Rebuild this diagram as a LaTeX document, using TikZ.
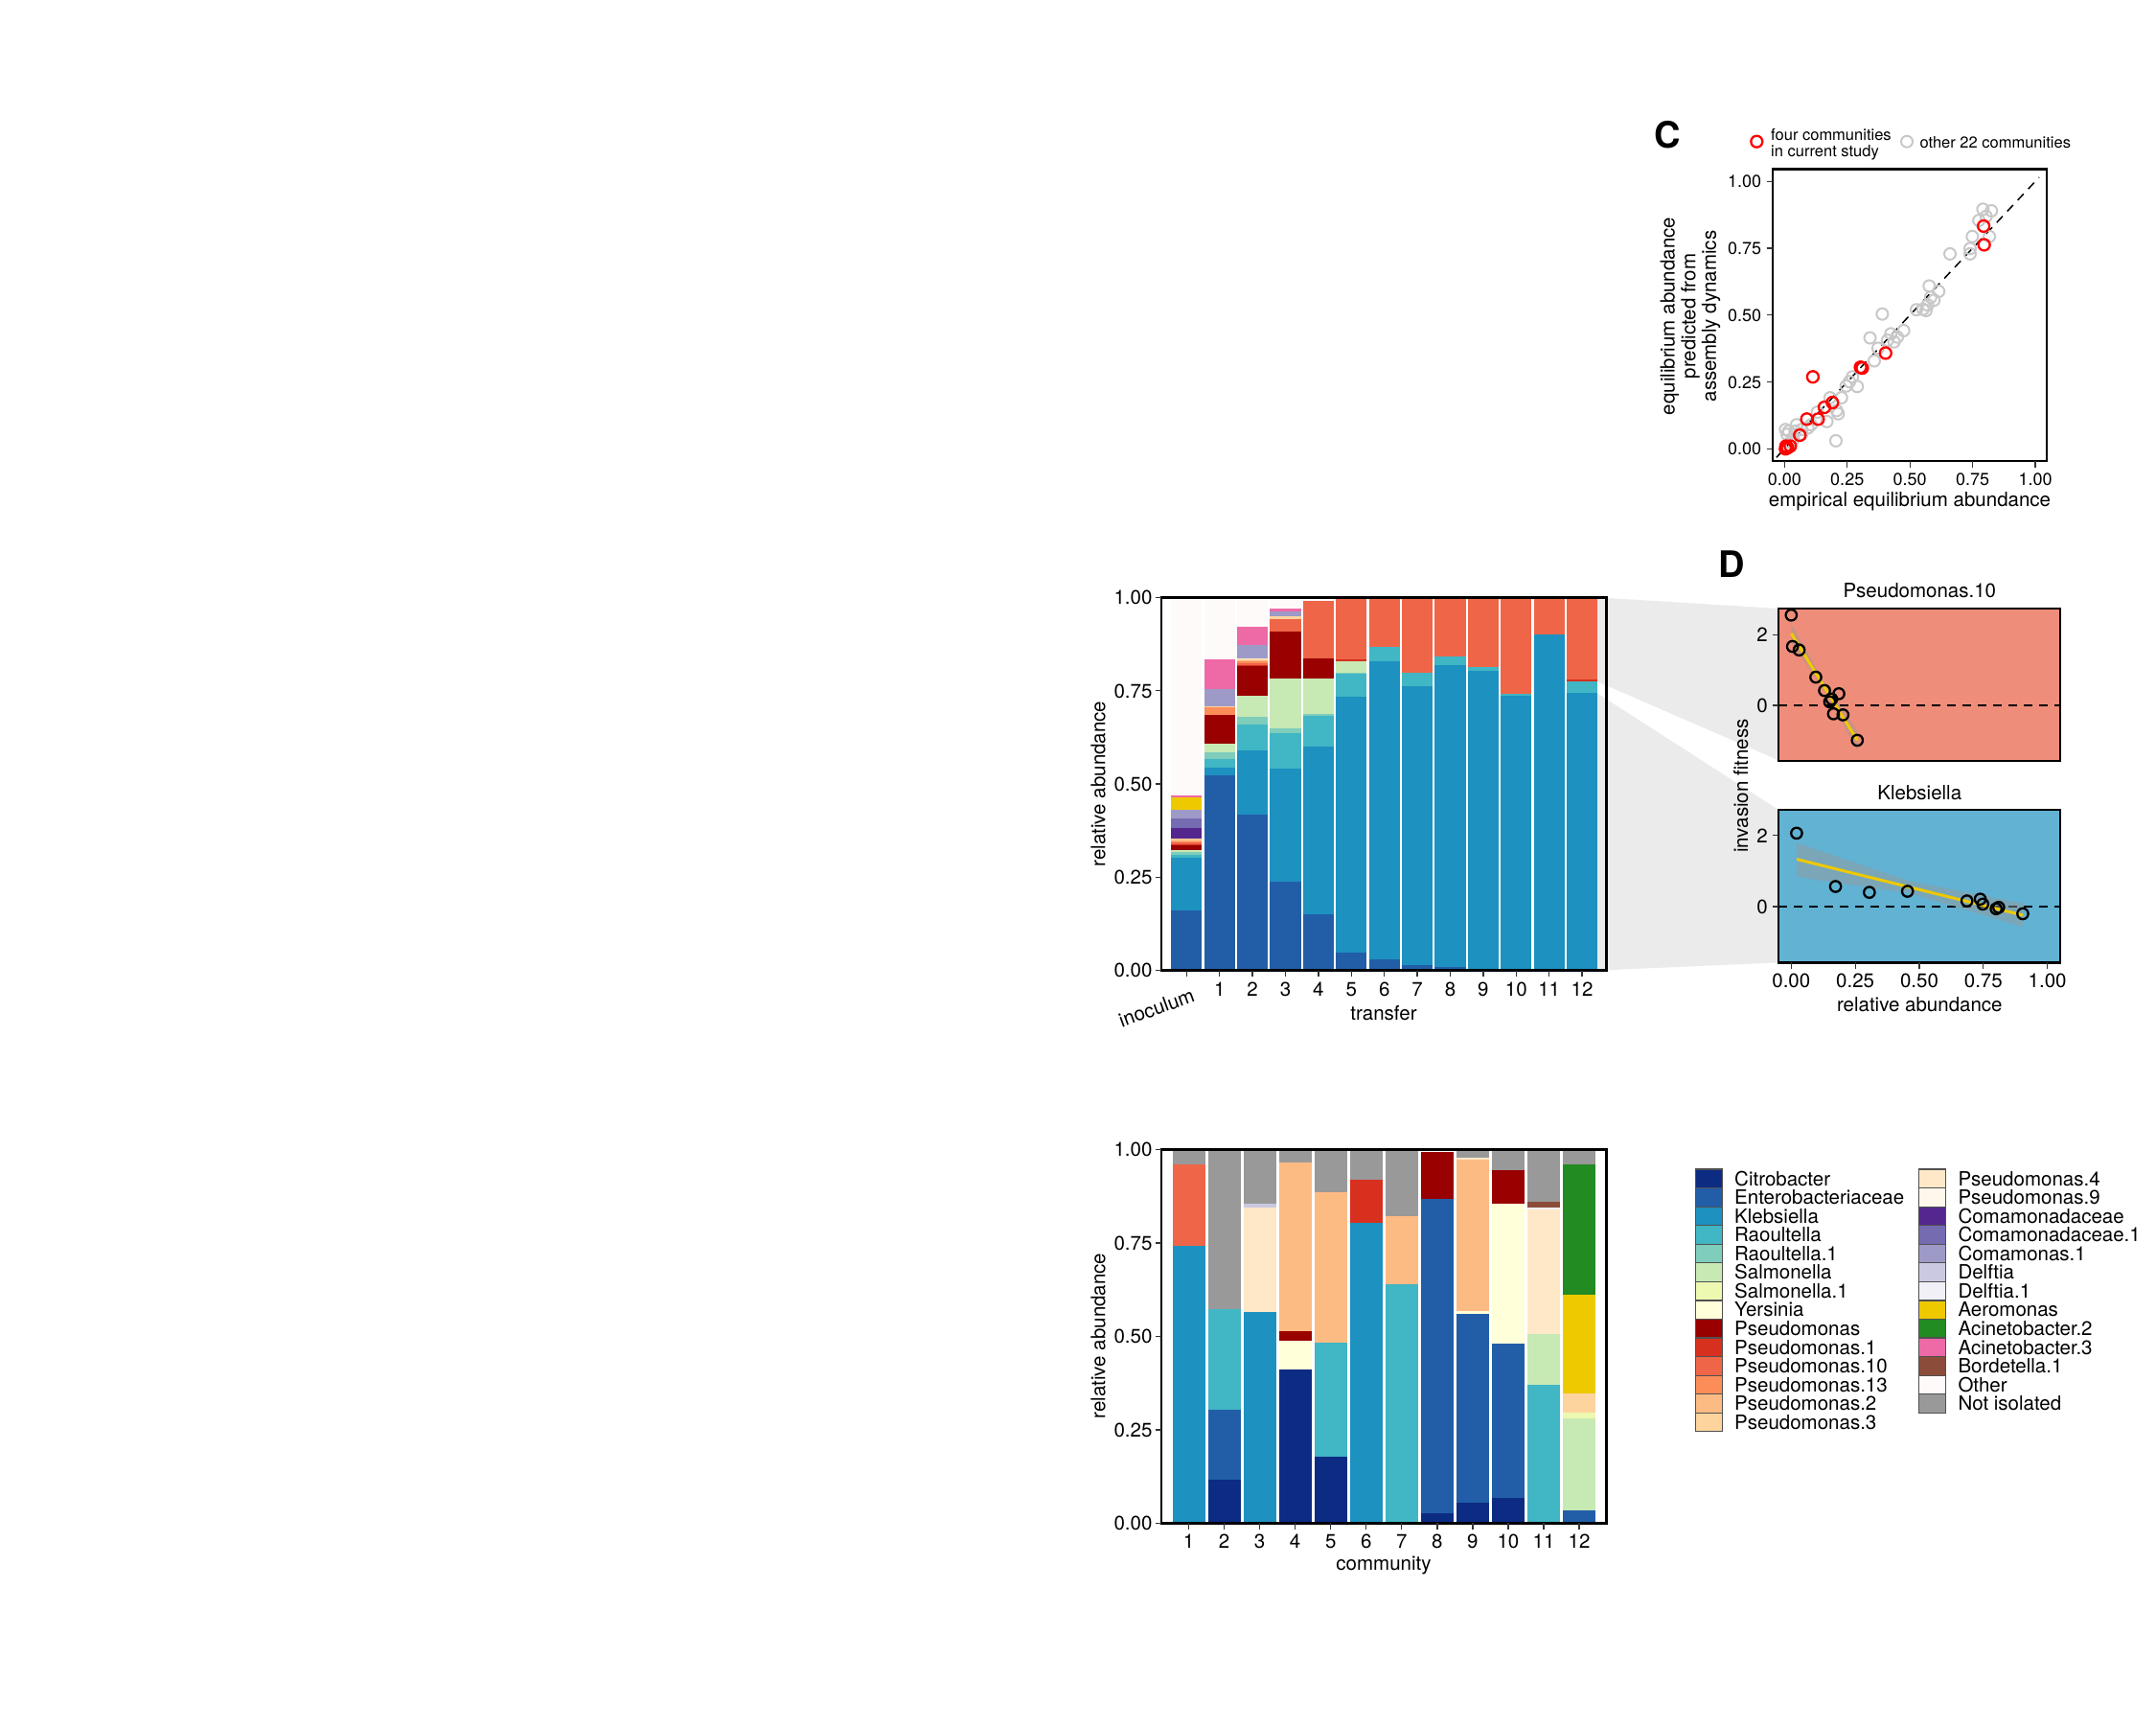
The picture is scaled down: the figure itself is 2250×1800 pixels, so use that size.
\documentclass[tikz,border=0pt]{standalone}
\usepackage{fontspec}
\setmainfont{TeX Gyre Heros}
\newcommand\fsz[1]{\fontsize{#1}{#1}\selectfont}
\definecolor{cCitro}{HTML}{0C2C84}
\definecolor{cEnt}{HTML}{225EA8}
\definecolor{cKleb}{HTML}{1D91C0}
\definecolor{cRao}{HTML}{41B6C4}
\definecolor{cRaoA}{HTML}{7FCDBB}
\definecolor{cSal}{HTML}{C7E9B4}
\definecolor{cSalA}{HTML}{EDF8B1}
\definecolor{cYer}{HTML}{FFFFD9}
\definecolor{cPs}{HTML}{990000}
\definecolor{cPsA}{HTML}{D7301F}
\definecolor{cPsX}{HTML}{EF6548}
\definecolor{cPsM}{HTML}{FC8D59}
\definecolor{cPsB}{HTML}{FDBB84}
\definecolor{cPsC}{HTML}{FDD49E}
\definecolor{cPsD}{HTML}{FEE8C8}
\definecolor{cPsI}{HTML}{FFF7EC}
\definecolor{cComa}{HTML}{54278F}
\definecolor{cComaA}{HTML}{756BB1}
\definecolor{cComs}{HTML}{9E9AC8}
\definecolor{cDelf}{HTML}{CBC9E2}
\definecolor{cDelfA}{HTML}{F2F0F7}
\definecolor{cAero}{HTML}{EEC900}
\definecolor{cAcinB}{HTML}{228B22}
\definecolor{cAcinC}{HTML}{EE6AA7}
\definecolor{cBord}{HTML}{8B4C39}
\definecolor{cOther}{HTML}{FFFAFA}
\definecolor{cNot}{HTML}{999999}
\definecolor{wedgegrey}{HTML}{EBEBEB}
\definecolor{dtopbg}{HTML}{EF8D7B}
\definecolor{dbotbg}{HTML}{61B2D3}
\definecolor{tickgrey}{HTML}{333333}
\definecolor{keyborder}{HTML}{505050}
\definecolor{ptgrey}{HTML}{C8C8C8}
\definecolor{ribbongrey}{HTML}{999999}
\newcommand\stackbar[3]{%
  \foreach \bcol/\btop [remember=\btop as \bprev (initially 0)] in {#3}{%
    \fill[\bcol] (#1-#2,\bprev) rectangle (#1+#2,\btop);}}
\begin{document}
\begin{tikzpicture}[x=1pt,y=-1pt,
  frame/.style={draw=black,line width=2.8pt},
  tickmark/.style={draw=tickgrey,line width=1.3pt},
  ticklab/.style={font=\fsz{20.5},inner sep=0pt},
  ticklabC/.style={font=\fsz{18},inner sep=0pt},
  axtitle/.style={font=\fsz{20.5},inner sep=0pt},
  legkey/.style={draw=keyborder,line width=1.2pt},
  leglab/.style={font=\fsz{20.5},inner sep=0pt,anchor=base west},
  redpt/.style={draw=red,line width=2.3pt},
  greypt/.style={draw=ptgrey,line width=2pt},
  blackpt/.style={draw=black,line width=2.3pt},
  fitline/.style={draw=cAero,line width=3pt},
  ribbon/.style={fill=ribbongrey,fill opacity=0.45},
  zline/.style={draw=black,line width=1.8pt,dash pattern=on 9pt off 7pt},
  panlab/.style={font=\fsz{38}\bfseries,inner sep=0pt}]
\useasboundingbox (0,0) rectangle (2250,1800);
\fill[white] (0,0) rectangle (2250,1800);

% ---------- grey wedges linking B to D ----------
\fill[wedgegrey] (1651,622.4) -- (1856,635) -- (1856,793.3) -- (1651,704.2) -- cycle;
\fill[wedgegrey] (1651,713.2) -- (1856,845) -- (1856,1004.3) -- (1651,1013.3) -- cycle;

% ---------- middle stacked bar chart (transfers) ----------
\begin{scope}[shift={(1238.3,1012.5)},x=34.4pt,y=389pt]
\stackbar{0}{0.47}{cEnt/0.161,cKleb/0.303,cRao/0.311,cRaoA/0.318,cSal/0.323,cPs/0.335,cPsA/0.339,cPsX/0.343,cPsM/0.347,cPsB/0.351,cPsC/0.3546,cComa/0.382,cComaA/0.4085,cComs/0.431,cAero/0.463,cAcinC/0.470,cOther/1}
\stackbar{1}{0.47}{cEnt/0.523,cKleb/0.544,cRao/0.566,cRaoA/0.585,cSal/0.6085,cPs/0.684,cPsM/0.705,cPsC/0.709,cComs/0.7546,cAcinC/0.835,cOther/1}
\stackbar{2}{0.47}{cEnt/0.419,cKleb/0.591,cRao/0.66,cRaoA/0.681,cSal/0.737,cPs/0.816,cPsA/0.820,cPsX/0.824,cPsM/0.828,cPsB/0.831,cPsC/0.834,cPsD/0.837,cComs/0.872,cAcinC/0.922,cOther/1}
\stackbar{3}{0.47}{cEnt/0.237,cKleb/0.541,cRao/0.637,cRaoA/0.6495,cSal/0.782,cPs/0.910,cPsX/0.942,cPsC/0.951,cComs/0.964,cAcinC/0.970,cOther/1}
\stackbar{4}{0.47}{cEnt/0.1496,cKleb/0.601,cRao/0.682,cRaoA/0.688,cSal/0.7838,cPs/0.8376,cPsX/0.9915,cOther/1}
\stackbar{5}{0.47}{cEnt/0.0487,cKleb/0.735,cRao/0.795,cRaoA/0.799,cSal/0.829,cPsA/0.8333,cPsX/1}
\stackbar{6}{0.47}{cEnt/0.029,cKleb/0.829,cRao/0.8667,cPsX/1}
\stackbar{7}{0.47}{cEnt/0.015,cKleb/0.762,cRao/0.797,cPsX/1}
\stackbar{8}{0.47}{cEnt/0.01,cKleb/0.818,cRao/0.842,cPsX/1}
\stackbar{9}{0.47}{cKleb/0.803,cRao/0.8145,cPsX/1}
\stackbar{10}{0.47}{cKleb/0.737,cRao/0.742,cPsX/1}
\stackbar{11}{0.47}{cKleb/0.9017,cPsX/1}
\stackbar{12}{0.47}{cKleb/0.7436,cRao/0.775,cPsA/0.780,cPsX/1}
\end{scope}
\draw[frame] (1212,623.5) rectangle (1676.5,1012.5);
\foreach \v/\l [count=\k] in {0/0.00,0.25/0.25,0.5/0.50,0.75/0.75,1/1.00}{
  \draw[tickmark] (1205.5,{1012.5-389*\v}) -- (1212,{1012.5-389*\v});
  \node[ticklab,anchor=base east] (bY\k) at (1202.6,{1012.5-389*\v+7.3}) {\l};}
\foreach \i in {0,...,12}{
  \draw[tickmark] ({1238.3+34.4*\i},1012.5) -- ({1238.3+34.4*\i},1019);}
\foreach \i in {1,...,12}{
  \node[ticklab,anchor=base] (bX\i) at ({1238.3+34.4*\i},1039.5) {\i};}
\node[ticklab,anchor=north east,rotate=20] (bX0) at (1243,1030) {inoculum};
\node[axtitle] (bxt) at (1444,1056.7) {transfer};
\node[axtitle,rotate=90] (byt) at (1146,818) {relative abundance};

% ---------- bottom stacked bar chart (communities) ----------
\begin{scope}[shift={(1203.45,1589.3)},x=37.05pt,y=389.8pt]
\stackbar{1}{0.459}{cKleb/0.743,cPsX/0.960,cNot/1}
\stackbar{2}{0.459}{cCitro/0.1153,cEnt/0.303,cRao/0.574,cNot/1}
\stackbar{3}{0.459}{cKleb/0.5645,cPsD/0.8454,cDelf/0.854,cNot/1}
\stackbar{4}{0.459}{cCitro/0.411,cYer/0.487,cPs/0.513,cPsB/0.966,cNot/1}
\stackbar{5}{0.459}{cCitro/0.179,cRao/0.484,cPsB/0.887,cNot/1}
\stackbar{6}{0.459}{cKleb/0.8036,cPsA/0.919,cNot/1}
\stackbar{7}{0.459}{cRao/0.6405,cPsB/0.8215,cNot/1}
\stackbar{8}{0.459}{cCitro/0.0256,cEnt/0.8685,cPs/0.993,cOther/1}
\stackbar{9}{0.459}{cCitro/0.0555,cEnt/0.560,cYer/0.569,cPsB/0.9735,cPsD/0.979,cNot/1}
\stackbar{10}{0.459}{cCitro/0.0666,cEnt/0.481,cYer/0.854,cPs/0.946,cNot/1}
\stackbar{11}{0.459}{cRao/0.3715,cSal/0.505,cPsD/0.841,cDelfA/0.844,cBord/0.859,cNot/1}
\stackbar{12}{0.459}{cEnt/0.034,cSal/0.280,cSalA/0.297,cPsC/0.348,cAero/0.6115,cAcinB/0.960,cNot/1}
\end{scope}
\draw[frame] (1212,1199.5) rectangle (1676.5,1589.3);
\foreach \v/\l [count=\k] in {0/0.00,0.25/0.25,0.5/0.50,0.75/0.75,1/1.00}{
  \draw[tickmark] (1205.5,{1589.3-389.8*\v}) -- (1212,{1589.3-389.8*\v});
  \node[ticklab,anchor=base east] (cY\k) at (1202.6,{1589.3-389.8*\v+7.3}) {\l};}
\foreach \i in {1,...,12}{
  \draw[tickmark] ({1203.45+37.05*\i},1589.3) -- ({1203.45+37.05*\i},1595.5);
  \node[ticklab,anchor=base] (cX\i) at ({1203.45+37.05*\i},1615.6) {\i};}
\node[axtitle] (cxt) at (1444,1633.3) {community};
\node[axtitle,rotate=90] (cyt) at (1146,1394) {relative abundance};

% ---------- legend ----------
\foreach \kcol/\lname [count=\k from 0] in {cCitro/Citrobacter,cEnt/Enterobacteriaceae,cKleb/Klebsiella,cRao/Raoultella,cRaoA/Raoultella.1,cSal/Salmonella,cSalA/Salmonella.1,cYer/Yersinia,cPs/Pseudomonas,cPsA/Pseudomonas.1,cPsX/Pseudomonas.10,cPsM/Pseudomonas.13,cPsB/Pseudomonas.2,cPsC/Pseudomonas.3}{
  \path[legkey,fill=\kcol] (1769.3,{1220+19.56*\k}) rectangle ++(28,19.56);
  \node[leglab] (la\k) at (1810,{1220+19.56*\k+9.78+7.2}) {\lname};}
\foreach \kcol/\lname [count=\k from 0] in {cPsD/Pseudomonas.4,cPsI/Pseudomonas.9,cComa/Comamonadaceae,cComaA/Comamonadaceae.1,cComs/Comamonas.1,cDelf/Delftia,cDelfA/Delftia.1,cAero/Aeromonas,cAcinB/Acinetobacter.2,cAcinC/Acinetobacter.3,cBord/Bordetella.1,cOther/Other,cNot/Not isolated}{
  \path[legkey,fill=\kcol] (2002.7,{1220+19.56*\k}) rectangle ++(28,19.56);
  \node[leglab] (lb\k) at (2043.3,{1220+19.56*\k+9.78+7.2}) {\lname};}

% ---------- panel C ----------
\node[panlab] (labC) at (1740,140.3) {C};
\draw[redpt] (1833.3,147.7) circle[radius=6pt];
\node[font=\fsz{16.5},inner sep=0pt,anchor=base west] (legC1) at (1848,146) {four communities};
\node[font=\fsz{16.5},inner sep=0pt,anchor=base west] (legC2) at (1848,163.7) {in current study};
\draw[greypt] (1990,147.7) circle[radius=6pt];
\node[font=\fsz{16.5},inner sep=0pt,anchor=base west] (legC3) at (2003.3,154) {other 22 communities};
\begin{scope}[shift={(1862.3,468.3)},x=261.7pt,y=279pt]
\draw[black,line width=1.5pt,dash pattern=on 9pt off 7pt] (-0.032,-0.032) -- (1.015,1.015);
\foreach \px/\py in {0.791/0.896,0.825/0.890,0.775/0.854,0.804/0.869,0.749/0.794,0.817/0.794,0.740/0.749,0.740/0.729,0.660/0.729,0.577/0.609,0.615/0.589,0.583/0.567,0.526/0.520,0.552/0.522,0.571/0.538,0.596/0.556,0.564/0.517,0.390/0.504,0.341/0.415,0.475/0.442,0.424/0.430,0.450/0.418,0.411/0.406,0.437/0.400,0.373/0.376,0.358/0.329,0.271/0.269,0.259/0.251,0.290/0.233,0.246/0.235,0.227/0.191,0.182/0.191,0.208/0.143,0.214/0.131,0.169/0.102,0.131/0.137,0.205/0.030,0.093/0.078,0.068/0.072,0.042/0.066,0.017/0.066,0.004/0.072,0.010/0.054,0.036/0.036,0.023/0.024,0.048/0.090,0.068/0.054,0.106/0.090}
  {\draw[greypt] (\px,\py) circle[radius=6pt];}
\foreach \px/\py in {0.794/0.833,0.796/0.763,0.403/0.358,0.303/0.305,0.31/0.302,0.113/0.269,0.191/0.173,0.159/0.155,0.089/0.111,0.134/0.111,0.061/0.051,0.006/0.01,0.023/0.01,0.004/0.0,0.012/0.004}
  {\draw[redpt] (\px,\py) circle[radius=6pt];}
\end{scope}
\draw[frame] (1850,176.7) rectangle (2136,481);
\foreach \v/\l [count=\k] in {0/0.00,0.25/0.25,0.5/0.50,0.75/0.75,1/1.00}{
  \draw[tickmark] (1843.5,{468.3-279*\v}) -- (1850,{468.3-279*\v});
  \node[ticklabC,anchor=base east] (aY\k) at (1838.3,{468.3-279*\v+6.5}) {\l};
  \draw[tickmark] ({1862.3+261.7*\v},481) -- ({1862.3+261.7*\v},487.5);
  \node[ticklabC,anchor=base] (aX\k) at ({1862.3+261.7*\v},506.5) {\l};}
\node[axtitle] (axt) at (1993,523.3) {empirical equilibrium abundance};
\node[axtitle,rotate=90,align=center,font=\fontsize{20.5}{21.7}\selectfont] (ayt) at (1764,330)
  {equilibrium abundance\\predicted from\\assembly dynamics};

% ---------- panel D ----------
\node[panlab] (labD) at (1807.5,589) {D};
\fill[dtopbg] (1856,635) rectangle (2150,794);
\fill[dbotbg] (1856,845) rectangle (2150,1004.3);
\draw[zline] (1856,736) -- (2150,736);
\draw[zline] (1856,946) -- (2150,946);
\begin{scope}[shift={(1869.3,736)},x=267.3pt,y=36.8pt]
\fill[ribbon] (0,2.32) -- (0.13,0.62) -- (0.258,-0.72) -- (0.258,-1.28) -- (0.13,0.41) -- (0,1.78) -- cycle;
\draw[fitline] (0,2.04) -- (0.258,-0.99);
\foreach \px/\py in {0.000/2.56,0.005/1.67,0.031/1.57,0.096/0.80,0.130/0.42,0.186/0.33,0.150/0.10,0.158/0.18,0.165/-0.24,0.202/-0.27,0.258/-0.99}
  {\draw[blackpt] (\px,\py) circle[radius=5.7pt];}
\end{scope}
\begin{scope}[shift={(1869.3,946)},x=267.3pt,y=37.2pt]
\fill[ribbon] (0.021,1.79) -- (0.46,0.72) -- (0.904,0.09) -- (0.904,-0.57) -- (0.46,0.38) -- (0.021,0.83) -- cycle;
\draw[fitline] (0.021,1.33) -- (0.904,-0.24);
\foreach \px/\py in {0.021/2.06,0.173/0.565,0.305/0.40,0.454/0.43,0.686/0.16,0.738/0.21,0.748/0.07,0.80/-0.06,0.81/-0.02,0.904/-0.2}
  {\draw[blackpt] (\px,\py) circle[radius=5.7pt];}
\end{scope}
\draw[frame] (1856,635) rectangle (2150,794);
\draw[frame] (1856,845) rectangle (2150,1004.3);
\foreach \yy/\l [count=\k] in {736/0,662.4/2,946/0,871.7/2}{
  \draw[tickmark] (1849.5,\yy) -- (1856,\yy);
  \node[ticklab,anchor=base east] (dY\k) at (1845,\yy+7.3) {\l};}
\foreach \v/\l [count=\k] in {0/0.00,0.25/0.25,0.5/0.50,0.75/0.75,1/1.00}{
  \draw[tickmark] ({1869.3+267.3*\v},1004.3) -- ({1869.3+267.3*\v},1010.8);
  \node[ticklab,anchor=base] (dX\k) at ({1869.3+267.3*\v},1030.6) {\l};}
\node[axtitle] (dt1) at (2003.3,616) {Pseudomonas.10};
\node[axtitle] (dt2) at (2003.3,826.7) {Klebsiella};
\node[axtitle] (dxt) at (2003.3,1048.3) {relative abundance};
\node[axtitle,rotate=90] (dyt) at (1816.7,820) {invasion fitness};
\end{tikzpicture}
\end{document}
